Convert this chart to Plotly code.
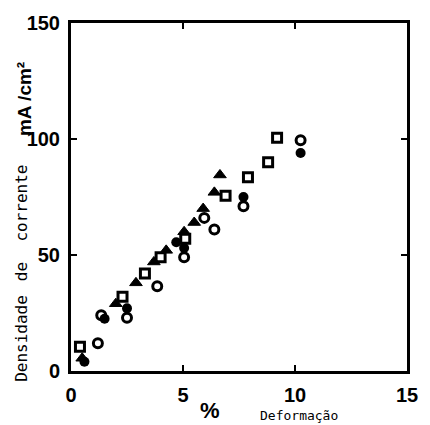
import plotly.graph_objects as go

# Data (x: % deformação, y: mA/cm2)
sq_x = [0.4, 2.3, 3.3, 4.0, 5.1, 6.9, 7.9, 8.8, 9.2]
sq_y = [10.5, 32, 42, 49, 57, 75.5, 83.5, 90, 100.5]

tri_x = [0.5, 2.0, 2.9, 3.7, 4.25, 5.05, 5.5, 5.9, 6.4, 6.65]
tri_y = [5.5, 29, 38, 47, 52, 60, 64, 70, 77, 84.5]

oc_x = [1.2, 1.35, 2.5, 3.85, 5.05, 5.95, 6.4, 7.7, 10.25]
oc_y = [12, 24, 23, 36.5, 49, 66, 61, 71, 99.5]

fc_x = [0.6, 1.5, 2.5, 4.7, 5.05, 7.7, 10.25]
fc_y = [4, 22.5, 27, 55.5, 53, 75, 94]

x_ticks = [0, 5, 10, 15]
y_ticks = [0, 50, 100, 150]

fig = go.Figure()
common = dict(mode="markers", showlegend=False, hoverinfo="skip")
fig.add_trace(go.Scatter(x=sq_x, y=sq_y, marker=dict(symbol="square-open", size=9,
              color="black", line=dict(width=3)), **common))
fig.add_trace(go.Scatter(x=tri_x, y=tri_y, marker=dict(symbol="triangle-up", size=11,
              color="black", line=dict(width=1, color="black")), **common))
fig.add_trace(go.Scatter(x=oc_x, y=oc_y, marker=dict(symbol="circle-open", size=9,
              color="black", line=dict(width=3)), **common))
fig.add_trace(go.Scatter(x=fc_x, y=fc_y, marker=dict(symbol="circle", size=10,
              color="black"), **common))

tickfont = dict(family="Liberation Sans Narrow, Liberation Sans", size=20, color="black")
axis_common = dict(showgrid=False, zeroline=False, showline=True, linecolor="black",
                   linewidth=3, mirror="ticks", ticks="inside", ticklen=6, tickwidth=2,
                   tickcolor="black", tickfont=tickfont)
fig.update_xaxes(range=[0, 15], tickvals=x_ticks, ticktext=[f"<b>{v}</b>" for v in x_ticks],
                 ticklabelstandoff=4, **axis_common)
fig.update_yaxes(range=[0, 150], tickvals=y_ticks, ticktext=[f"<b>{v}</b>" for v in y_ticks],
                 ticklabelstandoff=4, **axis_common)

ann_font = dict(family="DejaVu Sans Mono", size=16, color="black")
annotations = [
    dict(text="Densidade", x=20, y=338, textangle=-90, font=ann_font),
    dict(text="de", x=20, y=271, textangle=-90, font=ann_font),
    dict(text="corrente", x=20, y=202, textangle=-90, font=ann_font),
    dict(text="<b>mA /cm²</b>", x=23, y=98, textangle=-90,
         font=dict(family="Liberation Sans", size=19, color="black")),
    dict(text="<b>%</b>", x=215, y=411,
         font=dict(family="Liberation Sans", size=22, color="black")),
    dict(text="Deformação", x=306, y=416, font=dict(family="DejaVu Sans Mono", size=13, color="black")),
]
for a in annotations:
    fig.add_annotation(text=a["text"], x=(a["x"] - 71) / (430 - 71 - 12),
                       y=1 - (a["y"] - 21) / (425 - 21 - 54),
                       xref="paper", yref="paper", xanchor="center", yanchor="middle",
                       showarrow=False, textangle=a.get("textangle", 0), font=a["font"])

fig.update_layout(width=430, height=425, paper_bgcolor="white", plot_bgcolor="white",
                  margin=dict(l=71, r=12, t=21, b=54))

fig.write_html("out.html")
